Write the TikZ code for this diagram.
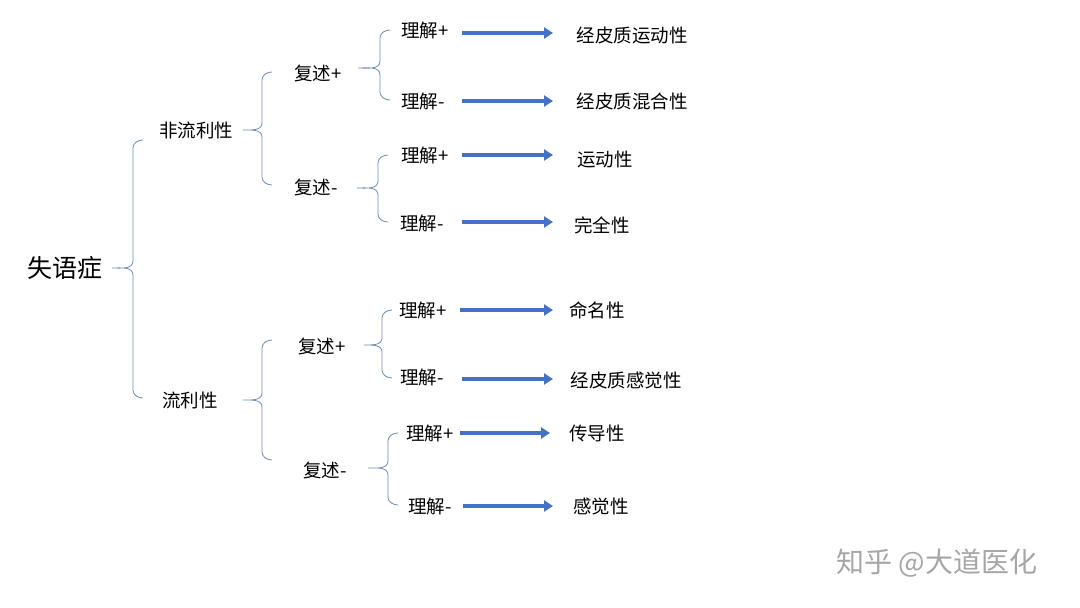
\documentclass[tikz,border=0pt]{standalone}
\usepackage{fontspec}
\setmainfont{Noto Sans CJK SC}
\usetikzlibrary{arrows.meta}
\definecolor{brc}{RGB}{110,140,180}
\definecolor{arr}{RGB}{68,114,196}
\newcommand{\lbr}[5]{% x top bot mid tip
 \draw[brc,line width=0.8pt] (#1+10,#2) to[out=180,in=90] (#1,#2+8) -- (#1,#4-7) to[out=-90,in=0] (#5,#4) to[out=0,in=90] (#1,#4+7) -- (#1,#3-8) to[out=-90,in=180] (#1+10,#3);}
\begin{document}
\begin{tikzpicture}[x=1pt,y=-1pt,
 t/.style={font=\fontsize{18.5}{22}\selectfont,inner sep=0pt},
 ar/.style={arr,line width=4pt,-{Triangle[length=9pt,width=11pt]}}]
\useasboundingbox (0,0) rectangle (1080,608);
\node[t,font=\fontsize{25}{28}\selectfont] (root) at (65,268) {失语症};
\lbr{133}{140}{398}{268}{112}
\node[t] (n1) at (196,130) {非流利性};
\node[t] (n2) at (190,400) {流利性};
\lbr{262}{72}{185}{130}{243}
\lbr{262}{340}{460}{400}{243}
\node[t] (a1) at (318,73) {复述+};
\node[t] (a2) at (316,187) {复述-};
\node[t] (a3) at (322,346) {复述+};
\node[t] (a4) at (325,470) {复述-};
\lbr{380}{30}{100}{68}{358}
\lbr{378}{155}{222}{188}{357}
\lbr{382}{310}{378}{345}{364}
\lbr{388}{433}{505}{468}{368}
\node[t] (b1) at (425,30) {理解+};
\node[t] (b2) at (423,101) {理解-};
\node[t] (b3) at (425,155) {理解+};
\node[t] (b4) at (422,223) {理解-};
\node[t] (b5) at (423,310) {理解+};
\node[t] (b6) at (422,377) {理解-};
\node[t] (b7) at (430,433) {理解+};
\node[t] (b8) at (430,506) {理解-};
\node[t] (c1) at (632,35) {经皮质运动性};
\node[t] (c2) at (632,101) {经皮质混合性};
\node[t] (c3) at (605,160) {运动性};
\node[t] (c4) at (602,225) {完全性};
\node[t] (c5) at (597,310) {命名性};
\node[t] (c6) at (626,380) {经皮质感觉性};
\node[t] (c7) at (597,433) {传导性};
\node[t] (c8) at (601,506) {感觉性};
\coordinate (s1) at (462,33); \coordinate (e1) at (553,33);
\coordinate (s2) at (462,101); \coordinate (e2) at (553,101);
\coordinate (s3) at (462,155); \coordinate (e3) at (553,155);
\coordinate (s4) at (462,222); \coordinate (e4) at (553,222);
\coordinate (s5) at (460,310); \coordinate (e5) at (553,310);
\coordinate (s6) at (462,379); \coordinate (e6) at (553,379);
\coordinate (s7) at (460,433); \coordinate (e7) at (550,433);
\coordinate (s8) at (463,506); \coordinate (e8) at (553,506);
\foreach \i in {1,...,8} \draw[ar] (s\i) -- (e\i);
\node[t,font=\fontsize{28}{30}\selectfont,text=black!35] (wm) at (937,563) {知乎 @大道医化};
\end{tikzpicture}
\end{document}
